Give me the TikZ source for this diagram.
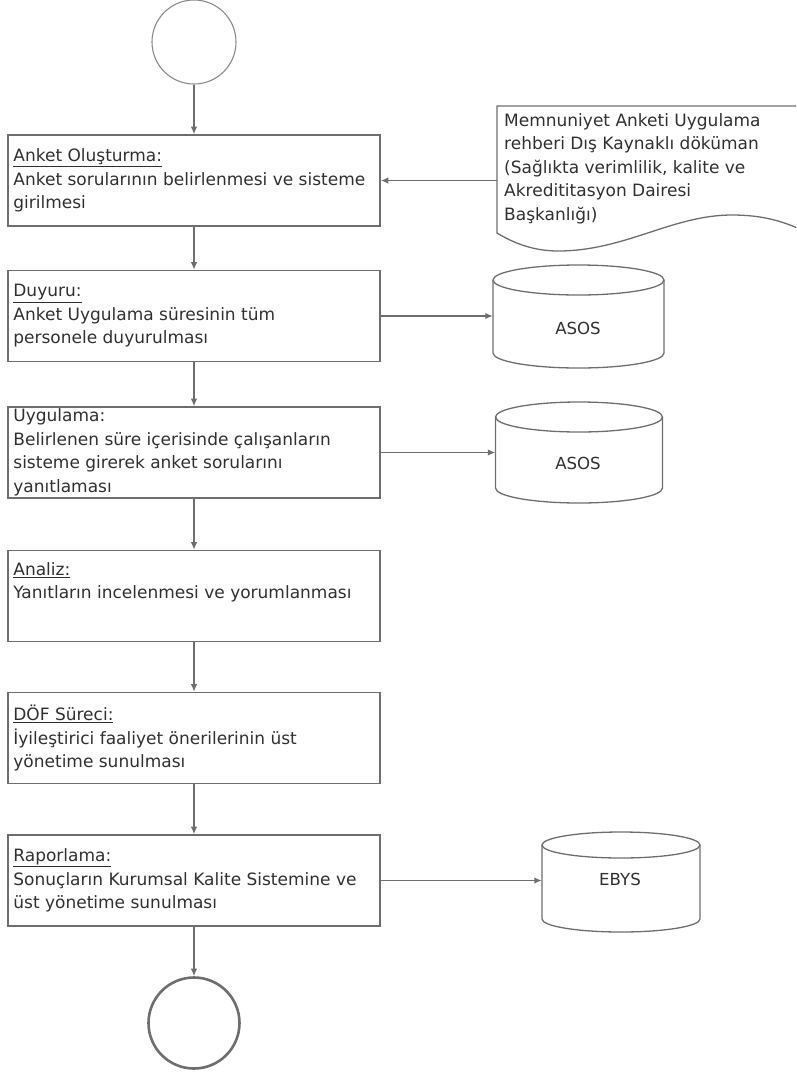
\documentclass[tikz,border=0pt]{standalone}
\usepackage{fontspec}
\setmainfont{DejaVu Sans}
\usetikzlibrary{arrows.meta}
\definecolor{linegray}{HTML}{6E6E6E}
\definecolor{lightline}{HTML}{8A8A8A}
\definecolor{txt}{HTML}{303030}

% database cylinder: centre x, top y, bottom y, x radius, y radius
\newcommand\dbshape[5]{%
  \draw[dbline] ({#1-#4},{#2+#5}) -- ({#1-#4},{#3-#5})
    arc[start angle=180,end angle=360,x radius=#4pt,y radius=#5pt]
    -- ({#1+#4},{#2+#5});
  \draw[dbline] (#1,{#2+#5}) ellipse[x radius=#4pt,y radius=#5pt];}

\begin{document}
\begin{tikzpicture}[x=1pt,y=-1pt,
  proc/.style={draw=linegray, line width=1.6pt, minimum width=372pt,
    minimum height=91pt, inner sep=0pt},
  lbl/.style={anchor=west, align=left, inner sep=0pt, text=txt,
    font=\fontsize{17}{23.5}\selectfont},
  dblbl/.style={inner sep=0pt, text=txt, font=\fontsize{16.6}{20}\selectfont},
  dbline/.style={draw=linegray, line width=1.3pt},
  flow/.style={draw=linegray, line width=1.4pt, -{Latex[length=7.5pt,width=6.5pt]}},
  shell/.style={inner sep=0pt}
]
\clip (0,0) rectangle (796,1072);

% start and end terminators
\node[draw=lightline, line width=1.1pt, circle, minimum size=84pt, inner sep=0pt] (start) at (194,42) {};
\node[draw=linegray, line width=2.6pt, circle, minimum size=91pt, inner sep=0pt] (stop) at (194,1023) {};

% process steps
\node[proc] (b1) at (194,180.5) {};
\node[lbl] (t1) at ([xshift=6pt]b1.west) {\underline{Anket Oluşturma:}\\Anket sorularının belirlenmesi ve sisteme\\girilmesi};

\node[proc] (b2) at (194,316) {};
\node[lbl] (t2) at ([xshift=6pt]b2.west) {\underline{Duyuru:}\\Anket Uygulama süresinin tüm\\personele duyurulması};

\node[proc] (b3) at (194,452.5) {};
\node[lbl] (t3) at ([xshift=6pt]b3.west) {Uygulama:\\Belirlenen süre içerisinde çalışanların\\sisteme girerek anket sorularını\\yanıtlaması};

\node[proc] (b4) at (194,596) {};
\node[lbl] (t4) at ([xshift=6pt]b4.west) {\underline{Analiz:}\\Yanıtların incelenmesi ve yorumlanması\\\strut};

\node[proc] (b5) at (194,738) {};
\node[lbl] (t5) at ([xshift=6pt]b5.west) {\underline{DÖF Süreci:}\\İyileştirici faaliyet önerilerinin üst\\yönetime sunulması};

\node[proc] (b6) at (194,880.5) {};
\node[lbl] (t6) at ([xshift=6pt]b6.west) {\underline{Raporlama:}\\Sonuçların Kurumsal Kalite Sistemine ve\\üst yönetime sunulması};

% external document
\draw[dbline] (800,106) -- (497,106) -- (497,233)
  .. controls (515,244) and (535,251) .. (558,251)
  .. controls (625,251) and (672,215) .. (732,215)
  .. controls (762,215) and (782,221) .. (802,230);
\node[lbl, anchor=north west] (doc) at (504,113) {Memnuniyet Anketi Uygulama\\rehberi Dış Kaynaklı döküman\\(Sağlıkta verimlilik, kalite ve\\Akredititasyon Dairesi\\Başkanlığı)};
\coordinate (docin) at (497,180.5);

% databases
\dbshape{578.5}{265}{368}{85.5}{15}
\node[shell, minimum width=171pt, minimum height=103pt] (c1) at (578.5,316.5) {};
\node[dblbl] (c1t) at (578,328) {ASOS};

\dbshape{579}{402}{503}{83.5}{15}
\node[shell, minimum width=167pt, minimum height=101pt] (c2) at (579,452.5) {};
\node[dblbl] (c2t) at (578,463) {ASOS};

\dbshape{621}{832}{932}{79}{13}
\node[shell, minimum width=158pt, minimum height=100pt] (c3) at (621,882) {};
\node[dblbl] (c3t) at (620,879) {EBYS};

% main flow
\draw[flow] (start) -- (b1);
\draw[flow] (b1) -- (b2);
\draw[flow] (b2) -- (b3);
\draw[flow] (b3) -- (b4);
\draw[flow] (b4) -- (b5);
\draw[flow] (b5) -- (b6);
\draw[flow] (b6) -- (stop);

% side connections
\draw[flow] (docin) -- (b1.east);
\draw[flow] (b2.east) -- (b2.east -| c1.west);
\draw[flow] (b3.east) -- (b3.east -| c2.west);
\draw[flow] (b6.east) -- (b6.east -| c3.west);
\end{tikzpicture}
\end{document}
